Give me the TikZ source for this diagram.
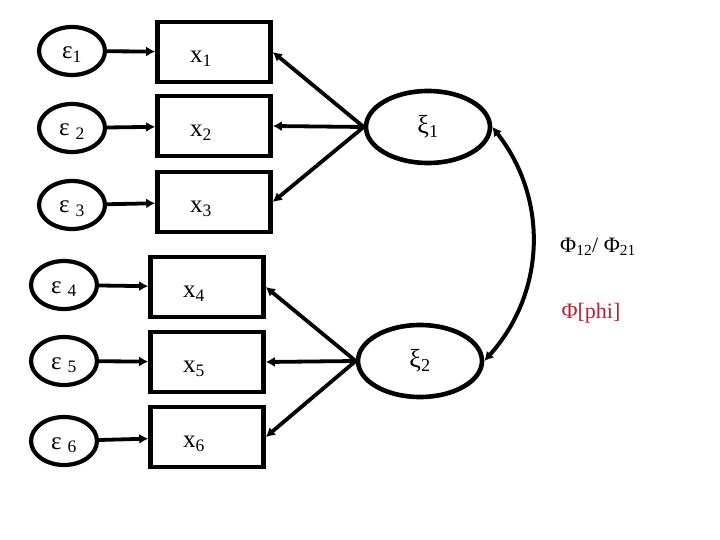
\documentclass[tikz,border=0pt]{standalone}
\usepackage{fontspec}
\setmainfont{Liberation Serif}
\usepackage{tikz}
\usetikzlibrary{positioning,arrows.meta,shapes.geometric}
\definecolor{phired}{RGB}{190,30,45}
\tikzset{
  patharrow/.style={-{Latex[length=9pt,width=10pt]}, line width=3.8pt},
  covarrow/.style={{Latex[length=9pt,width=10pt]}-{Latex[length=9pt,width=10pt]}, line width=4pt},
  errnode/.style={draw, ellipse, line width=4.2pt, minimum width=66pt, minimum height=48pt, inner sep=0pt, text height=17pt, text depth=1pt, font=\fontsize{25}{28}\selectfont},
  obsbox/.style={draw, line width=4.6pt, minimum width=113pt, minimum height=60pt, inner sep=0pt},
  obslabel/.style={font=\fontsize{25}{28}\selectfont, xshift=-13pt, yshift=-7pt},
  latent/.style={draw, ellipse, line width=4.6pt, minimum width=124pt, minimum height=72pt, inner sep=0pt, font=\fontsize{26}{28}\selectfont},
  covlabel/.style={font=\fontsize{22}{26}\selectfont}
}

\begin{document}
\begin{tikzpicture}[x=1pt, y=-1pt, >=Latex]
  \useasboundingbox (0,0) rectangle (720,540);
  % error terms
  \node[errnode] (e1) at (72,51) {ε\textsubscript{1}};
  \node[errnode] (e2) at (72,128) {ε \textsubscript{2}};
  \node[errnode] (e3) at (72,205) {ε \textsubscript{3}};
  \node[errnode] (e4) at (64,285) {ε \textsubscript{4}};
  \node[errnode] (e5) at (64,361) {ε \textsubscript{5}};
  \node[errnode] (e6) at (64,441) {ε \textsubscript{6}};
  % observed variables
  \node[obsbox, label={[obslabel]center:x\textsubscript{1}}] (x1) at (214,52) {};
  \node[obsbox, label={[obslabel]center:x\textsubscript{2}}] (x2) at (214,126) {};
  \node[obsbox, label={[obslabel]center:x\textsubscript{3}}] (x3) at (214,202) {};
  \node[obsbox, label={[obslabel]center:x\textsubscript{4}}] (x4) at (207,287) {};
  \node[obsbox, label={[obslabel]center:x\textsubscript{5}}] (x5) at (207,362) {};
  \node[obsbox, label={[obslabel]center:x\textsubscript{6}}] (x6) at (207,437) {};
  % latent factors
  \node[latent] (xi1) at (428,127) {ξ\textsubscript{1}};
  \node[latent] (xi2) at (420,361) {ξ\textsubscript{2}};
  \node[covlabel] (phi) at (598,247) {Φ\textsubscript{12}/ Φ\textsubscript{21}};
  \node[covlabel, text=phired] (phiname) at (591,313) {Φ[phi]};
  \foreach \i in {1,...,6} \draw[patharrow] (e\i) -- (x\i);
  \foreach \i in {1,2,3} \draw[patharrow] (xi1.west) -- (x\i.east);
  \foreach \i in {4,5,6} \draw[patharrow] (xi2.west) -- (x\i.east);
  \draw[covarrow] (xi1.east) to[bend left=40] (xi2.east);
\end{tikzpicture}
\end{document}
